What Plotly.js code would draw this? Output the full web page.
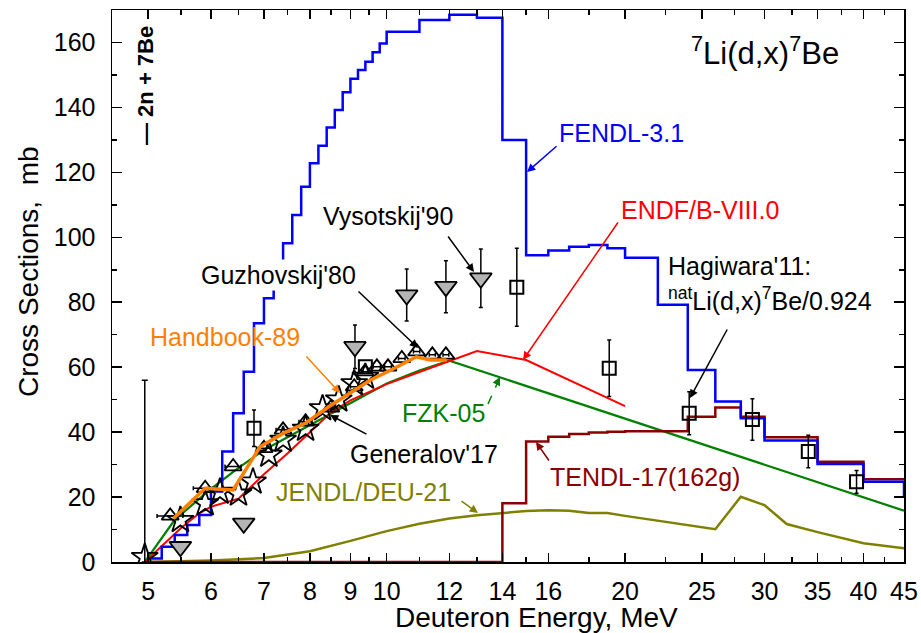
<!DOCTYPE html>
<html>
<head>
<meta charset="utf-8">
<script src="https://cdn.plot.ly/plotly-3.0.1.min.js"></script>
<style>
  html, body { margin: 0; padding: 0; background: #fff; }
  #chart { width: 921px; height: 633px; }
</style>
</head>
<body>
<div id="chart"></div>
<script>
// ---- evaluated cross sections (mb) vs deuteron energy (MeV) ----
// FENDL-3.1: group-wise histogram, value holds from E[i] to E[i+1]
const fendlE = [5.0, 5.2, 5.4, 5.6, 5.8, 6.0, 6.2, 6.4, 6.6, 6.8, 7.0, 7.2, 7.4, 7.6, 7.8,
  8.0, 8.2, 8.4, 8.6, 8.8, 9.0, 9.2, 9.4, 9.6, 9.8, 10, 11, 12, 13, 14, 15, 16, 17, 18, 19,
  20, 22, 24, 26, 28, 30, 35, 40, 45];
const fendlXS = [1.1, 4.7, 8.3, 11.4, 14.5, 21.7, 34.0, 45.8, 58.6, 73.5, 81.2, 90.0, 98.2,
  106.9, 115.6, 122.8, 128.2, 133.8, 139.2, 144.7, 148.8, 151.5, 154.1, 157.0, 159.7, 163.3,
  166.9, 168.5, 167.6, 130.0, 94.5, 95.9, 97.1, 97.6, 96.6, 93.7, 79.2, 59.1, 49.4, 44.3,
  37.4, 30.2, 24.7, 20.0];

// TENDL-2017 (162 groups), histogram
const tendlE = [4.95, 14, 15, 16, 17, 18, 19, 20, 22, 24, 26, 28, 30, 35, 40, 45];
const tendlXS = [0, 18.1, 37.1, 38.6, 39.4, 39.9, 40.1, 40.3, 40.3, 44.7, 47.6, 44.7, 38.4,
  30.9, 25.5, 25.5];

// ENDF/B-VIII.0
const endfE = [4.95, 5.2, 5.5, 5.8, 6.0, 6.5, 7.0, 7.5, 8.0, 8.5, 9.0, 10, 11, 12, 13, 15, 20];
const endfXS = [0, 5.0, 10.5, 15.0, 17.0, 19.5, 27.0, 33.5, 40.0, 46.0, 49.8, 54.8, 58.5,
  61.8, 65.0, 62.2, 48.0];

// FZK-05
const fzkE = [4.95, 5.4, 6.0, 6.5, 7.0, 7.5, 8.0, 9.0, 10, 11, 12, 45];
const fzkXS = [0, 13.0, 22.5, 29.0, 34.5, 38.5, 42.0, 49.0, 55.0, 59.0, 62.0, 15.8];

// Handbook-89
const hbE = [5.38, 5.9, 6.4, 6.92, 7.4, 7.89, 8.45, 9.1, 9.53, 10.2, 10.9, 11.35, 11.9];
const hbXS = [13.4, 22.7, 22.2, 35.5, 39.6, 42.7, 47.8, 53.0, 56.0, 59.5, 63.2, 62.2, 62.2];

// JENDL/DEU-2021
const jendlE = [5.0, 5.5, 6, 7, 8, 9, 10, 11, 12, 13, 14, 15, 16, 17, 18, 19, 20, 22, 24,
  26, 28, 30, 32, 35, 40, 45];
const jendlXS = [0, 0.2, 0.5, 1.2, 3.3, 6.5, 9.5, 11.8, 13.4, 14.4, 15.0, 15.7, 15.9, 15.8,
  15.1, 15.1, 14.2, 12.7, 11.4, 10.1, 20.1, 17.5, 11.7, 9.2, 5.8, 4.2];

// ---- measurements ----
// Guzhovskij'80 (energy spread given as dE)
const guzE  = [5.33, 5.9, 6.4, 7.0, 7.4, 7.9, 8.5, 9.1, 9.39, 9.72, 10.04, 10.45, 10.91, 11.42, 11.88];
const guzXS = [14.2, 22.7, 29.4, 35.0, 40.7, 43.2, 47.5, 54.0, 58.6, 60.1, 60.1, 62.7, 64.8, 63.8, 63.8];
const guzDE = [0.2, 0.2, 0.15, 0.15, 0.15, 0.15, 0.1, 0.1, 0.1, 0.1, 0.1, 0.1, 0.1, 0.1, 0.1];

// Generalov'17
const genE  = [4.95, 5.49, 5.9, 6.16, 6.5, 6.78, 7.1, 7.4, 7.9, 8.3, 8.7, 9.1, 9.4];
const genXS = [1.5, 12.9, 18.0, 21.6, 21.0, 24.7, 33.0, 37.6, 41.0, 47.3, 50.0, 55.0, 57.0];

// Vysotskij'90
const vysE   = [5.49, 6.6, 9.12, 10.6, 11.88, 13.15];
const vysXS  = [4.7, 11.9, 66.3, 82.2, 84.8, 87.4];
const vysErr = [0, 0, 6.7, 8.0, 8.0, 9.0];

// Hagiwara'11: natLi(d,x)7Be / 0.924
const hagE   = [6.8, 9.4, 14.6, 19.1, 24.1, 28.96, 34.07, 39.2];
const hagXS  = [41.2, 60.1, 84.6, 59.7, 45.8, 43.9, 34.0, 24.7];
const hagErr = [5.6, 0, 12.0, 8.7, 6.6, 6.4, 5.0, 3.5];

// threshold of the 2n + 7Be channel
const thrE = [4.95];
const thrTop = [56];

// axis ticks
const xTicks = [5, 6, 7, 8, 9, 10, 12, 14, 16, 20, 25, 30, 35, 40, 45];
const xMinor = [5.5, 6.5, 7.5, 8.5, 9.5, 11, 13, 15, 18, 22.5, 27.5, 32.5, 37.5, 42.5];
const yTicks = [0, 20, 40, 60, 80, 100, 120, 140, 160];

// ---- drawing ----
const FONT = 'Arial, "Liberation Sans", sans-serif';

const traces = [
  { x: jendlE, y: jendlXS, mode: 'lines', line: { color: '#808000', width: 2.5 } },
  { x: fzkE, y: fzkXS, mode: 'lines', line: { color: '#008000', width: 2.2 } },
  { x: endfE, y: endfXS, mode: 'lines', line: { color: '#ff0000', width: 2 } },
  { x: tendlE, y: tendlXS, mode: 'lines', line: { color: '#8b0000', width: 2.5, shape: 'hv' } },
  { x: fendlE, y: fendlXS, mode: 'lines', line: { color: '#0000ff', width: 2.5, shape: 'hv' } },
  { x: thrE, y: [0], mode: 'markers', marker: { size: 1, opacity: 0 },
    error_y: { type: 'data', symmetric: false, array: thrTop, arrayminus: [0],
               color: '#000', thickness: 1.5, width: 3 } },
  { x: guzE, y: guzXS, mode: 'markers',
    marker: { symbol: 'triangle-up-open', size: 15, color: '#000', line: { width: 1.8 } },
    error_x: { type: 'data', array: guzDE, color: '#000', thickness: 1.5, width: 2 } },
  { x: genE, y: genXS, mode: 'markers',
    marker: { symbol: 'star-open', size: 20, color: '#000', line: { width: 1.8 } } },
  { x: hbE, y: hbXS, mode: 'lines', line: { color: '#ff8000', width: 3.5 } },
  { x: vysE, y: vysXS, mode: 'markers',
    marker: { symbol: 'triangle-down', size: 19, color: '#b4b4b4', line: { color: '#000', width: 1.8 } },
    error_y: { type: 'data', array: vysErr, color: '#000', thickness: 1.5, width: 2 } },
  { x: hagE, y: hagXS, mode: 'markers',
    marker: { symbol: 'square-open', size: 13, color: '#000', line: { width: 2 } },
    error_y: { type: 'data', array: hagErr, color: '#000', thickness: 1.5, width: 2 } }
];

// plot frame in page pixels: x 112..904, y 10..562
const PL = 112, PR = 904, PT = 10, PB = 562;
const px = v => (v - PL) / (PR - PL);
const py = v => (PB - v) / (PB - PT);

function label(text, x, y, color, size, extra) {
  return Object.assign({ text: text, xref: 'paper', yref: 'paper', x: px(x), y: py(y),
    xanchor: 'left', yanchor: 'middle', showarrow: false,
    font: { family: FONT, size: size || 25, color: color } }, extra || {});
}
function arrow(x0, y0, x1, y1, color, w) {
  return { text: '', xref: 'paper', yref: 'paper', x: px(x1), y: py(y1),
    ax: x0 - x1, ay: y0 - y1, axref: 'pixel', ayref: 'pixel', showarrow: true,
    arrowhead: 2, arrowsize: 1.1, arrowwidth: w || 1.5, arrowcolor: color, standoff: 0 };
}

const annotations = [
  label('<sup>7</sup>Li(d,x)<sup>7</sup>Be', 689, 51, '#000', 31),
  label('— 2n + 7Be', 146, 86, '#000', 22, { textangle: -90, xanchor: 'center',
    font: { family: FONT, size: 22, color: '#000', weight: 'bold' } }),
  label('FENDL-3.1', 557, 133, '#0000ff'),
  arrow(558, 145, 527, 172, '#0000ff'),
  label('ENDF/B-VIII.0', 619, 210, '#ff0000'),
  arrow(619, 221, 523, 360, '#ff0000'),
  label('Hagiwara\'11:', 666, 266, '#000'),
  label('<sup>nat</sup>Li(d,x)<sup>7</sup>Be/0.924', 666, 299, '#000'),
  arrow(728, 328, 690, 398, '#000'),
  label('Vysotskij\'90', 321, 216, '#000'),
  arrow(447, 235, 474, 272, '#000'),
  label('Guzhovskij\'80', 199, 275, '#000', 25, { bgcolor: '#fff' }),
  arrow(357, 290, 418, 348, '#000'),
  label('Handbook-89', 148, 337, '#ff8000'),
  arrow(305, 355, 340, 393, '#ff8000'),
  label('Generalov\'17', 348, 454, '#000'),
  arrow(368, 435, 330, 415, '#000'),
  label('FZK-05', 400, 413, '#008000'),
  arrow(496, 385, 500, 377, '#008000'),
  label('TENDL-17(162g)', 548, 477, '#8b0000'),
  arrow(550, 462, 536, 442, '#8b0000'),
  label('JENDL/DEU-21', 274, 492, '#808000'),
  arrow(460, 500, 478, 513, '#808000')
];

const shapes = [
  { type: 'line', xref: 'paper', yref: 'paper', x0: px(488), y0: py(404), x1: px(497), y1: py(384),
    line: { color: '#008000', width: 1.5, dash: 'dash' } }
];

const axisCommon = {
  showline: true, linecolor: '#000', linewidth: 1.5, mirror: 'ticks',
  ticks: 'inside', tickcolor: '#000', tickwidth: 1.5, showgrid: false, zeroline: false,
  tickfont: { family: FONT, size: 25, color: '#000' }
};

const layout = {
  width: 921, height: 633,
  margin: { l: PL, r: 921 - PR, t: PT, b: 633 - PB, pad: 0 },
  paper_bgcolor: '#fff', plot_bgcolor: '#fff',
  showlegend: false,
  font: { family: FONT, color: '#000' },
  xaxis: Object.assign({}, axisCommon, {
    type: 'log', range: [Math.log10(4.5), Math.log10(45)],
    tickmode: 'array', tickvals: xTicks, ticktext: xTicks.map(String), ticklen: 9,
    ticklabelstandoff: 6,
    minor: { tickmode: 'array', tickvals: xMinor, ticks: 'inside', ticklen: 5,
             tickwidth: 1.5, tickcolor: '#000' }
  }),
  yaxis: Object.assign({}, axisCommon, {
    range: [0, 170], tickmode: 'array', tickvals: yTicks, ticklen: 10,
    ticklabelstandoff: 10,
    minor: { dtick: 10, tick0: 0, ticks: 'inside', ticklen: 5, tickwidth: 1.5, tickcolor: '#000' }
  }),
  annotations: annotations.concat([
    { text: 'Deuteron Energy, MeV', xref: 'paper', yref: 'paper', x: px(536), y: py(617),
      xanchor: 'center', yanchor: 'middle', showarrow: false,
      font: { family: FONT, size: 28, color: '#000' } },
    { text: 'Cross Sections,  mb', xref: 'paper', yref: 'paper', x: px(28), y: py(272),
      xanchor: 'center', yanchor: 'middle', showarrow: false, textangle: -90,
      font: { family: FONT, size: 28, color: '#000' } }
  ]),
  shapes: shapes
};

Plotly.newPlot('chart', traces, layout, { staticPlot: true, displayModeBar: false });
</script>
</body>
</html>
